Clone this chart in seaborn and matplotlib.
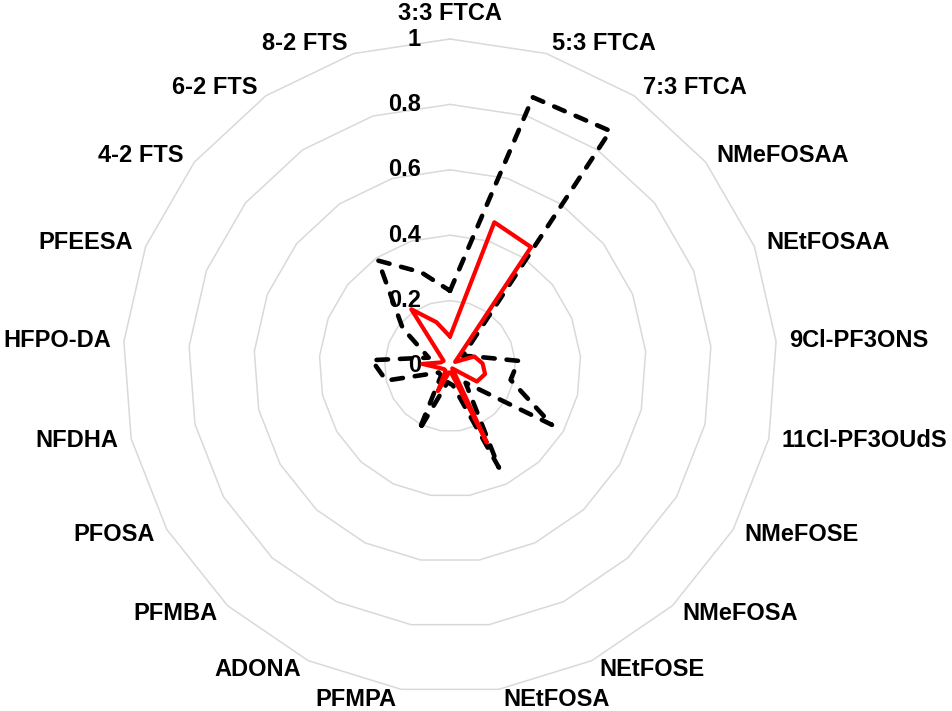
import numpy as np
import pandas as pd
import matplotlib
matplotlib.use("Agg")
import matplotlib.pyplot as plt
import seaborn as sns

categories = ["3:3 FTCA", "5:3 FTCA", "7:3 FTCA", "NMeFOSAA", "NEtFOSAA",
              "9Cl-PF3ONS", "11Cl-PF3OUdS", "NMeFOSE", "NMeFOSA", "NEtFOSE",
              "NEtFOSA", "PFMPA", "ADONA", "PFMBA", "PFOSA", "NFDHA",
              "HFPO-DA", "PFEESA", "4-2 FTS", "6-2 FTS", "8-2 FTS"]
series_black = [0.23, 0.86, 0.87, 0.05, 0.08, 0.21, 0.19, 0.36, 0.07, 0.345,
                0.06, 0.05, 0.22, 0.04, 0.04, 0.20, 0.24, 0.07, 0.185, 0.39, 0.30]
series_red = [0.09, 0.46, 0.44, 0.02, 0.08, 0.10, 0.11, 0.095, 0.01, 0.26,
              0.02, 0.02, 0.085, 0.02, 0.02, 0.03, 0.085, 0.03, 0.025, 0.21, 0.14]
tick_values = [0, 0.2, 0.4, 0.6, 0.8, 1.0]
tick_labels = ["0", "0.2", "0.4", "0.6", "0.8", "1"]

sns.set_theme(style="white")
plt.rcParams["font.family"] = ["Liberation Sans", "DejaVu Sans"]
plt.rcParams["text.color"] = "black"

N = len(categories)
theta = np.arange(N) * 2 * np.pi / N
theta_closed = np.append(theta, 2 * np.pi)

def closed(vals):
    return np.append(np.asarray(vals, float), vals[0])

df_black = pd.DataFrame({"theta": theta_closed, "value": closed(series_black)})
df_red = pd.DataFrame({"theta": theta_closed, "value": closed(series_red)})

fig = plt.figure(figsize=(9.53, 7.11), dpi=100)
ax = fig.add_axes([450/953 - 327/953, (711 - 366 - 327)/711, 654/953, 654/711],
                  projection="polar")
ax.set_theta_offset(np.pi / 2)
ax.set_theta_direction(-1)

# polygonal gridlines
for lev in tick_values[1:]:
    ax.plot(theta_closed, [lev] * (N + 1), color="#d9d9d9", lw=1.1,
            zorder=1, clip_on=False)

sns.lineplot(data=df_black, x="theta", y="value", sort=False, estimator=None,
             color="black", lw=3.3, linestyle=(0, (2.5, 2.6)),
             dash_capstyle="round", ax=ax, zorder=3, clip_on=False, legend=False)
sns.lineplot(data=df_red, x="theta", y="value", sort=False, estimator=None,
             color="#ff0000", lw=3.0, ax=ax, zorder=4, clip_on=False, legend=False)

ax.set_ylim(0, 1)
ax.set_xticks([])
ax.set_yticks([])
ax.grid(False)
ax.spines["polar"].set_visible(False)
ax.set_xlabel("")
ax.set_ylabel("")

for v, lab in zip(tick_values, tick_labels):
    ax.annotate(lab, xy=(0, v), xytext=(-29, 0), textcoords="offset pixels",
                ha="right", va="center", fontsize=17, fontweight="bold",
                color="black", annotation_clip=False, zorder=2)

for i, lab in enumerate(categories):
    phi = np.pi / 2 - theta[i]
    c, s = np.cos(phi), np.sin(phi)
    if i == 0:
        dx, dy, ha = 0, 26, "center"
    else:
        ha = "left" if c > 0 else "right"
        dx = np.sign(c) * (3 + 10 * abs(c))
        dy = 10 * s
    ax.annotate(lab, xy=(theta[i], 1.0), xytext=(dx, dy),
                textcoords="offset pixels", ha=ha, va="center",
                fontsize=17, fontweight="bold", color="black",
                annotation_clip=False)

fig.savefig("out.png", dpi=100, facecolor="white")
